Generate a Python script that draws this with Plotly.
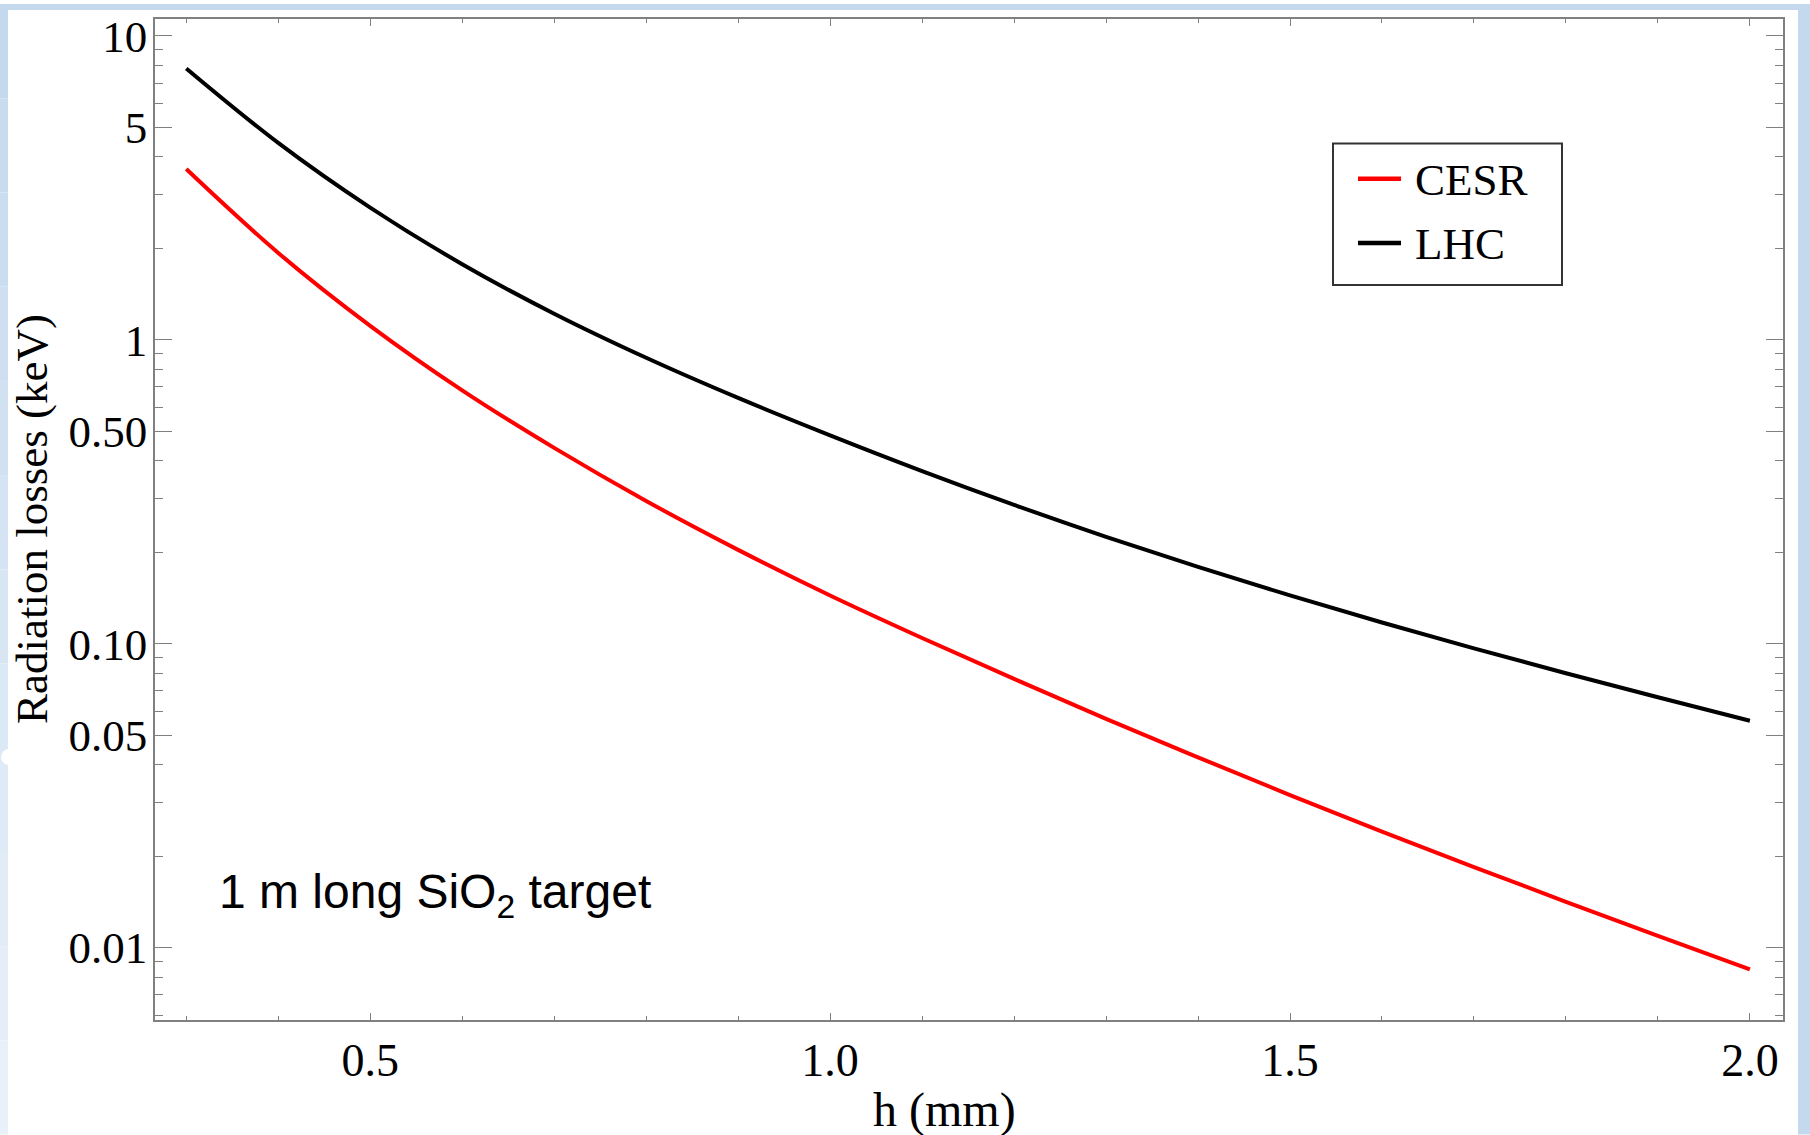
import plotly.graph_objects as go

# ---- data ----
h_mm = [0.3, 0.4, 0.5, 0.6, 0.7, 0.8, 0.9, 1.0, 1.1, 1.2, 1.3, 1.4, 1.5, 1.6, 1.7, 1.8, 1.9, 2.0]
cesr_kev = [3.648, 1.932, 1.112, 0.682, 0.441, 0.295, 0.2037, 0.1442, 0.1045, 0.0766, 0.0566,
            0.0423, 0.03177, 0.0241, 0.01841, 0.01416, 0.01094, 0.00849]
lhc_kev = [7.816, 4.446, 2.723, 1.774, 1.219, 0.873, 0.644, 0.485, 0.370, 0.2864, 0.2249,
           0.1791, 0.1442, 0.1175, 0.0966, 0.0800, 0.0667, 0.0558]
series_names = ["CESR", "LHC"]
series_colors = ["#ff0000", "#000000"]

x_tickvals = [0.5, 1.0, 1.5, 2.0]
x_ticktext = ["0.5", "1.0", "1.5", "2.0"]
y_tickvals = [0.01, 0.05, 0.1, 0.5, 1, 5, 10]
y_ticktext = ["0.01", "0.05", "0.10", "0.50", "1", "5", "10"]
y_minor = [0.006, 0.007, 0.008, 0.009, 0.02, 0.03, 0.04, 0.06, 0.07, 0.08, 0.09,
           0.2, 0.3, 0.4, 0.6, 0.7, 0.8, 0.9, 2, 3, 4, 6, 7, 8, 9]
x_minor = [0.3, 0.4, 0.6, 0.7, 0.8, 0.9, 1.1, 1.2, 1.3, 1.4, 1.6, 1.7, 1.8, 1.9]

W, H = 1810, 1135
L, R, T, B = 155, 27, 15, 115
PW, PH = W - L - R, H - T - B

def px(xp):
    return (xp - L) / PW

def py(yp):
    return (H - B - yp) / PH

SERIF = "Liberation Serif, Times New Roman, serif"
GRAY = "#808080"

fig = go.Figure()
for name, ys, col in zip(series_names, [cesr_kev, lhc_kev], series_colors):
    fig.add_trace(go.Scatter(x=h_mm, y=ys, mode="lines", name=name, showlegend=False,
                             line=dict(color=col, width=4, shape="spline", smoothing=1.0)))

fig.update_xaxes(range=[0.266, 2.036], showgrid=False, zeroline=False,
                 showline=True, linecolor=GRAY, linewidth=1.5, mirror="ticks",
                 ticks="inside", ticklen=7, tickcolor=GRAY, tickwidth=1.3,
                 tickvals=x_tickvals, ticktext=x_ticktext,
                 tickfont=dict(family=SERIF, size=46, color="black"),
                 ticklabelstandoff=-1,
                 minor=dict(tickvals=x_minor, ticks="inside", ticklen=4,
                            tickcolor=GRAY, tickwidth=1.2, showgrid=False))
fig.update_yaxes(type="log", range=[-2.238, 1.0557], showgrid=False, zeroline=False,
                 showline=True, linecolor=GRAY, linewidth=1.5, mirror="ticks",
                 ticks="inside", ticklen=17, tickcolor=GRAY, tickwidth=1.3,
                 tickvals=y_tickvals, ticktext=y_ticktext,
                 tickfont=dict(family=SERIF, size=45, color="black"),
                 ticklabelstandoff=-3,
                 minor=dict(tickvals=y_minor, ticks="inside", ticklen=8,
                            tickcolor=GRAY, tickwidth=1.2, showgrid=False))

shapes = []
BLUE = "#c5d9ee"
# top and right blue frame
shapes.append(dict(type="rect", xref="paper", yref="paper", x0=px(0), x1=px(W), y0=py(6), y1=py(0),
                   fillcolor=BLUE, line=dict(width=0), layer="below"))
shapes.append(dict(type="rect", xref="paper", yref="paper", x0=px(1798), x1=px(W), y0=py(H), y1=py(0),
                   fillcolor=BLUE, line=dict(width=0), layer="below"))
# left frame with a gradient fading downward
n = 12
c0 = (197, 217, 238)
c1 = (232, 240, 249)
for i in range(n):
    t = i / (n - 1)
    col = "rgb(%d,%d,%d)" % tuple(round(a + (b - a) * t) for a, b in zip(c0, c1))
    y0p = i * H / n
    y1p = (i + 1) * H / n
    shapes.append(dict(type="rect", xref="paper", yref="paper", x0=px(0), x1=px(8),
                       y0=py(y1p), y1=py(y0p), fillcolor=col, line=dict(width=0), layer="below"))
shapes.append(dict(type="circle", xref="paper", yref="paper", x0=px(1), x1=px(17),
                   y0=py(764), y1=py(748), fillcolor="white", line=dict(width=0), layer="below"))

# legend box drawn by hand (box, sample lines, labels)
shapes.append(dict(type="rect", xref="paper", yref="paper", x0=px(1333), x1=px(1562),
                   y0=py(282), y1=py(140), fillcolor="white",
                   line=dict(color="#333333", width=2), layer="above"))
legend_y = [175.5, 240]
annotations = []
for name, col, ly in zip(series_names, series_colors, legend_y):
    shapes.append(dict(type="line", xref="paper", yref="paper", x0=px(1358), x1=px(1401),
                       y0=py(ly), y1=py(ly), line=dict(color=col, width=4.5), layer="above"))
    annotations.append(dict(text=name, xref="paper", yref="paper", x=px(1413), y=py(ly + 1),
                            xanchor="left", yanchor="middle", showarrow=False,
                            font=dict(family=SERIF, size=45, color="black")))

annotations += [
    dict(text="Radiation losses (keV)", textangle=-90, xref="paper", yref="paper",
         x=px(32), y=py(517), xanchor="center", yanchor="middle", showarrow=False,
         font=dict(family=SERIF, size=45, color="black")),
    dict(text="h (mm)", xref="paper", yref="paper", x=px(944), y=py(1110),
         xanchor="center", yanchor="middle", showarrow=False,
         font=dict(family=SERIF, size=48, color="black")),
    dict(text="1 m long SiO<sub>2</sub> target", xref="paper", yref="paper",
         x=px(217), y=py(895), xanchor="left", yanchor="middle", showarrow=False,
         font=dict(family="Liberation Sans, Arial, sans-serif", size=48, color="black")),
]

fig.update_layout(
    width=W, height=H, margin=dict(l=L, r=R, t=T, b=B, pad=0),
    paper_bgcolor="white", plot_bgcolor="white",
    shapes=shapes, annotations=annotations,
    showlegend=False,
)

fig.write_html("out.html")
